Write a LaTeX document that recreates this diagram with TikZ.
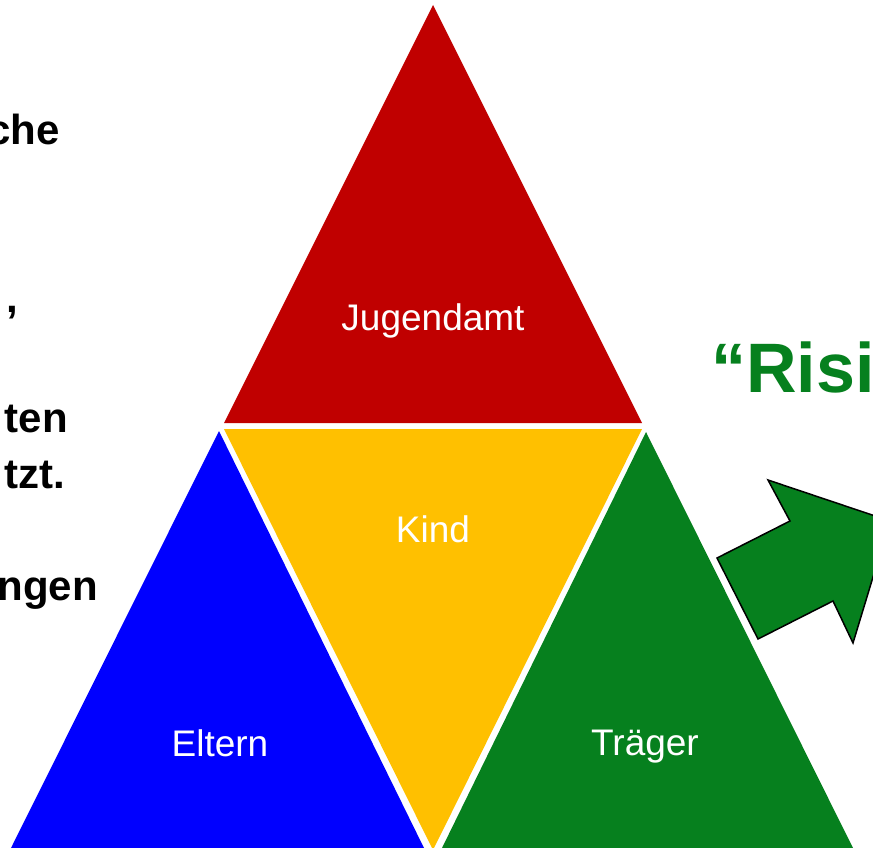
\documentclass[tikz,border=0pt]{standalone}
\usepackage{fontspec}
\setmainfont{Liberation Sans}
\usetikzlibrary{positioning}
\definecolor{amtclr}{RGB}{192,0,0}
\definecolor{kindclr}{RGB}{255,192,0}
\definecolor{elternclr}{RGB}{0,0,255}
\definecolor{traegerclr}{RGB}{6,128,30}
\tikzset{
    lbl/.style={text=white,anchor=base,inner sep=0pt,font=\fontsize{37}{44}\selectfont},
    side/.style={anchor=base east,inner sep=0pt,font=\bfseries\fontsize{42}{50}\selectfont},
    title/.style={anchor=base west,inner sep=0pt,text=traegerclr,font=\bfseries\fontsize{70}{82}\selectfont},
    bigarrow/.style={fill=traegerclr,draw=black,line width=1.5pt,line join=miter},
}

\begin{document}
\begin{tikzpicture}[x=1pt,y=-1pt]
\useasboundingbox (0,0) rectangle (873,848);
\clip (0,0) rectangle (873,848);

% triangles
\fill[amtclr]     (433,5)   -- (642,423) -- (224,423) -- cycle;
\fill[kindclr]    (224,429) -- (642,429) -- (433,850) -- cycle;
\fill[elternclr]  (219,431) -- (424,848) -- (11,848)  -- cycle;
\fill[traegerclr] (646,432) -- (853,848) -- (442,848) -- cycle;

% labels
\node[lbl] (amt)    at (433,330) {Jugendamt};
\node[lbl] (kind)   at (433,542) {Kind};
\node[lbl] (eltern) at (220,756) {Eltern};
\node[lbl] (traeg)  at (645,755) {Träger};

% cut-off text, left
\node[side] (t1) at (60,145) {che};
\node[side] (t2) at (18,312) {,};
\node[side] (t3) at (68,432) {ten};
\node[side] (t4) at (65,488) {tzt.};
\node[side] (t5) at (98,600) {ngen};

% cut-off title and arrow, right
\node[title] (risk) at (711,392) {“Risi};
\draw[bigarrow] (717,558) -- (758,639) -- (833,601) -- (853,643)
    -- (890,521) -- (768,480) -- (790,521) -- cycle;
\end{tikzpicture}
\end{document}
